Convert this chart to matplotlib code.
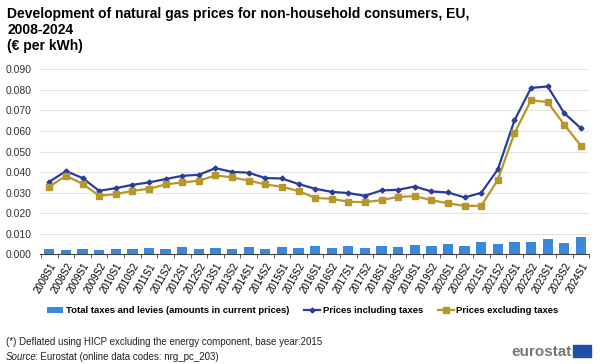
import matplotlib.pyplot as plt
import matplotlib.patches as mpatches
import matplotlib.transforms as mtransforms
import numpy as np

plt.rcParams['font.family'] = ['Liberation Sans', 'DejaVu Sans']

periods = [f"{y}S{s}" for y in range(2008, 2025) for s in (1, 2)][:33]

incl_taxes = [0.0353, 0.0405, 0.0371, 0.0309, 0.0322, 0.0338, 0.0350, 0.0366, 0.0382, 0.0387,
              0.0419, 0.0401, 0.0397, 0.0371, 0.0369, 0.0342, 0.0319, 0.0304, 0.0298, 0.0285,
              0.0311, 0.0314, 0.0330, 0.0306, 0.0301, 0.0277, 0.0299, 0.0413, 0.0651, 0.0809,
              0.0816, 0.0686, 0.0613]
excl_taxes = [0.0329, 0.0382, 0.0343, 0.0285, 0.0293, 0.0309, 0.0319, 0.0340, 0.0350, 0.0358,
              0.0384, 0.0374, 0.0359, 0.0340, 0.0329, 0.0308, 0.0275, 0.0270, 0.0256, 0.0254,
              0.0264, 0.0280, 0.0283, 0.0264, 0.0248, 0.0236, 0.0236, 0.0363, 0.0589, 0.0749,
              0.0740, 0.0630, 0.0528]
taxes = [0.0026, 0.0022, 0.0026, 0.0021, 0.0026, 0.0026, 0.0031, 0.0024, 0.0034, 0.0024,
         0.0032, 0.0026, 0.0034, 0.0028, 0.0037, 0.0032, 0.0042, 0.0032, 0.0040, 0.0031,
         0.0042, 0.0035, 0.0045, 0.0039, 0.0052, 0.0039, 0.0062, 0.0049, 0.0060, 0.0060,
         0.0073, 0.0057, 0.0084]

c_bar = '#3a87dc'
c_incl = '#2a3d9c'
c_excl = '#b8972a'

fig = plt.figure(figsize=(6, 3.64), dpi=100)
ax = fig.add_axes([0.067, 0.301, 0.915, 0.509])

x = np.arange(len(periods))
b = ax.bar(x, taxes, width=0.62, color=c_bar, zorder=2,
           label='Total taxes and levies (amounts in current prices)')
l1, = ax.plot(x, incl_taxes, color=c_incl, lw=1.6, marker='D', ms=2.5, zorder=3,
              label='Prices including taxes')
l2, = ax.plot(x, excl_taxes, color=c_excl, lw=1.6, marker='s', ms=3.8, zorder=3,
              label='Prices excluding taxes')

ax.set_xlim(-0.55, 32.5)
ax.set_ylim(0, 0.09)
ax.set_yticks(np.arange(0, 0.0901, 0.01))
ax.set_yticklabels([f"{v:.3f}" for v in np.arange(0, 0.0901, 0.01)])
ax.grid(axis='y', color='#e3e3e3', lw=0.8, zorder=0)
ax.set_xticks(x)
ax.set_xticklabels(periods, rotation=60, ha='right', rotation_mode='anchor', fontsize=7)
shift = mtransforms.ScaledTranslation(5 / 100, 0, fig.dpi_scale_trans)
for lab in ax.get_xticklabels():
    lab.set_transform(lab.get_transform() + shift)
ax.set_xticks(np.arange(-0.5, 33, 1), minor=True)
ax.tick_params(axis='x', which='major', length=0, pad=5)
ax.tick_params(axis='x', which='minor', length=3, color='#444444')
ax.tick_params(axis='y', length=0, labelsize=7.5, pad=6, labelcolor='#333333')
for s in ['top', 'right', 'left']:
    ax.spines[s].set_visible(False)
ax.spines['bottom'].set_color('#444444')

fig.legend(handles=[b, l1, l2], loc='center', bbox_to_anchor=(0.505, 0.146), ncol=3,
           frameon=False, prop={'weight': 'bold', 'size': 6.8}, handlelength=1.7,
           columnspacing=1.6, handletextpad=0.25)

fig.text(0.012, 0.982, 'Development of natural gas prices for non-household consumers, EU,\n2008-2024\n(€ per kWh)',
         fontsize=10, fontweight='bold', va='top', ha='left', linespacing=1.2)
fig.text(0.01, 0.06, '(*) Deflated using HICP excluding the energy component, base year:2015',
         fontsize=7, va='center', color='#222222')
fig.text(0.01, 0.02, 'Source', fontsize=7, style='italic', va='center', color='#222222')
fig.text(0.058, 0.02, ': Eurostat (online data codes: nrg_pc_203)', fontsize=7, va='center',
         color='#222222')

fig.text(0.953, 0.033, 'eurostat', fontsize=11, fontweight='bold', color='#777777',
         ha='right', va='center')
fig.patches.append(mpatches.Rectangle((0.955, 0.018), 0.03, 0.034, transform=fig.transFigure,
                                      color='#1f4fa8', figure=fig))

fig.savefig('out.png', dpi=100)
